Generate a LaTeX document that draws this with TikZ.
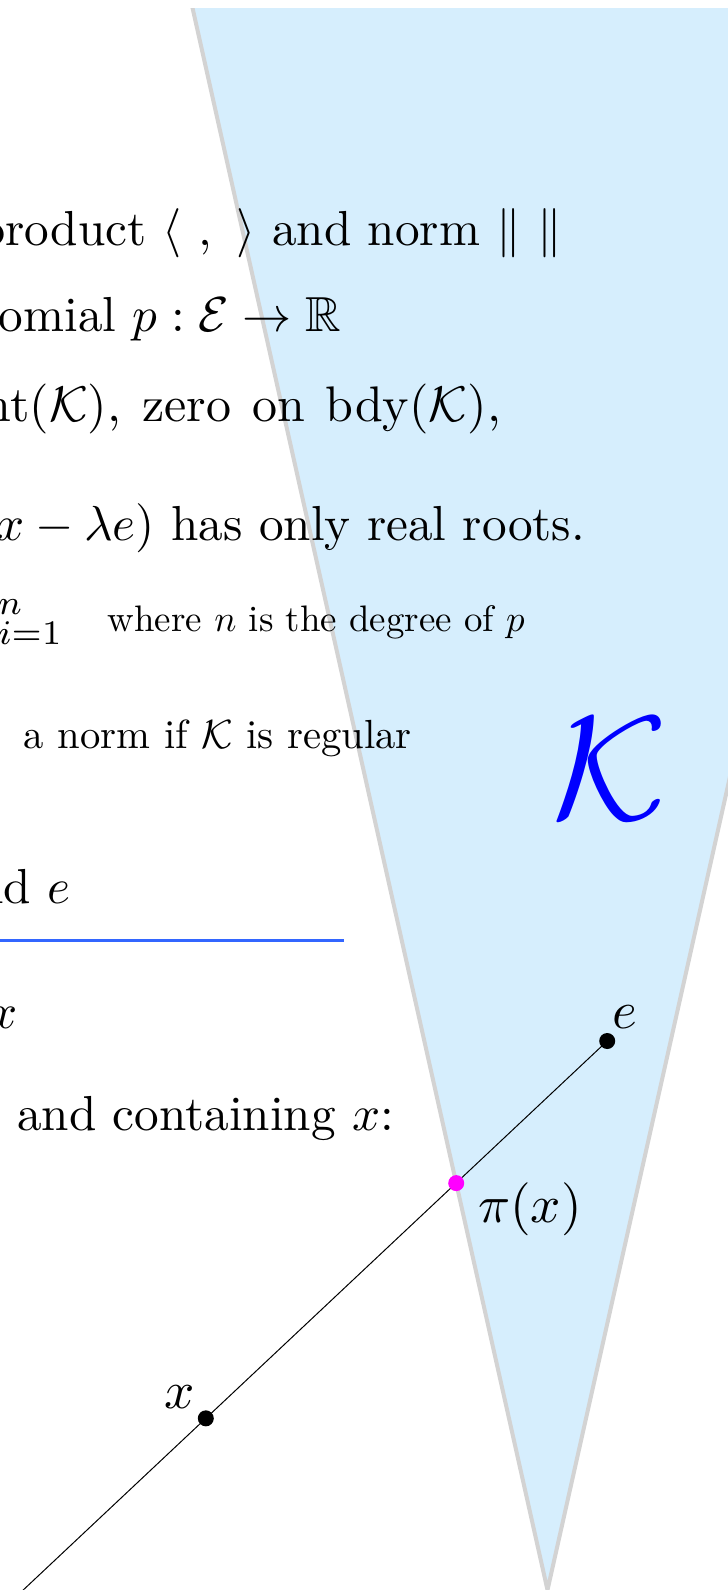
\documentclass[tikz,border=0pt]{standalone}
\usepackage{amssymb}
\usetikzlibrary{calc}
\definecolor{conefill}{RGB}{214,238,253}
\definecolor{coneedge}{RGB}{211,211,211}
\definecolor{sepline}{RGB}{51,102,255}
\definecolor{pinkpt}{RGB}{255,0,255}
\begin{document}
\begin{tikzpicture}[x=0.5pt,y=-0.5pt,
  plain/.style={inner sep=0pt},
  txt/.style={plain,scale=2.46},
  lab/.style={plain,scale=2.65},
  blackdot/.style={circle,fill=black,inner sep=0pt,minimum size=8pt},
  pinkdot/.style={circle,fill=pinkpt,inner sep=0pt,minimum size=8pt}]
\useasboundingbox (0,0) rectangle (728,1590);
\begin{scope}
\clip (0,8) rectangle (728,1590);
% cone
\coordinate (apex) at (547.5,1590);
\coordinate (tl) at (168.3,-100);
\coordinate (tr) at (926.7,-100);
\fill[conefill] (tl) -- (apex) -- (tr) -- cycle;
\draw[coneedge, line width=2pt] (tl) -- (apex) -- (tr);
% texts
\node[txt, anchor=base east] (t1) at (563,245) {product $\langle\ ,\ \rangle$ and norm $\|\ \|$};
\node[txt, anchor=base east] (t2) at (342,331.7) {omial $p:\mathcal{E}\to\mathbb{R}$};
\node[plain, scale=2.5, anchor=base east] (t3) at (502,421.7) {nt$(\mathcal{K})$,\hspace{0.42em}zero\hspace{0.42em}on\hspace{0.42em}bdy$(\mathcal{K})$,};
\node[txt, anchor=base east] (t4) at (586,540) {$x-\lambda e)$ has only real roots.};
\node[txt, anchor=base east] (t5) at (65,632) {${}^{n}_{i=1}$};
\node[plain, scale=1.844, anchor=base west] (t6) at (107,631.7) {where $n$ is the degree of $p$};
\node[plain, scale=2.034, anchor=base west] (t7) at (23,748.3) {a norm if $\mathcal{K}$ is regular};
\node[plain, scale=7.42, text=blue] (bigK) at (610.5,768.9) {$\mathcal{K}$};
\node[txt, anchor=base east] (t8) at (71,903.3) {nd $e$};
\coordinate (hl) at (0,940.3);
\coordinate (hr) at (343.7,940.3);
\draw[sepline, line width=1.3pt] (hl) -- (hr);
\node[txt, anchor=base east] (t9) at (18.5,1028) {$x$};
\node[txt, anchor=base west] (t10) at (16.2,1130) {and containing $x$:};
% line through x and e
\coordinate (s) at (23.2,1590);
\coordinate (ept) at (607.2,1041);
\coordinate (s2) at ($(s)!-0.04!(ept)$);
\draw[black, line width=0.5pt] (s2) -- (ept);
\coordinate (xpt) at ($(s)!0.3127!(ept)$);
\coordinate (ppt) at (intersection of s--ept and apex--tl);
\node[blackdot] (edot) at (ept) {};
\node[blackdot] (xdot) at (xpt) {};
\node[pinkdot] (pdot) at (ppt) {};
\node[lab, anchor=base west] (elab) at (611,1028) {$e$};
\node[lab, anchor=base west] (plab) at (477,1222) {$\pi(x)$};
\node[lab, anchor=base west] (xlab) at (163,1408) {$x$};
\end{scope}
\end{tikzpicture}
\end{document}
